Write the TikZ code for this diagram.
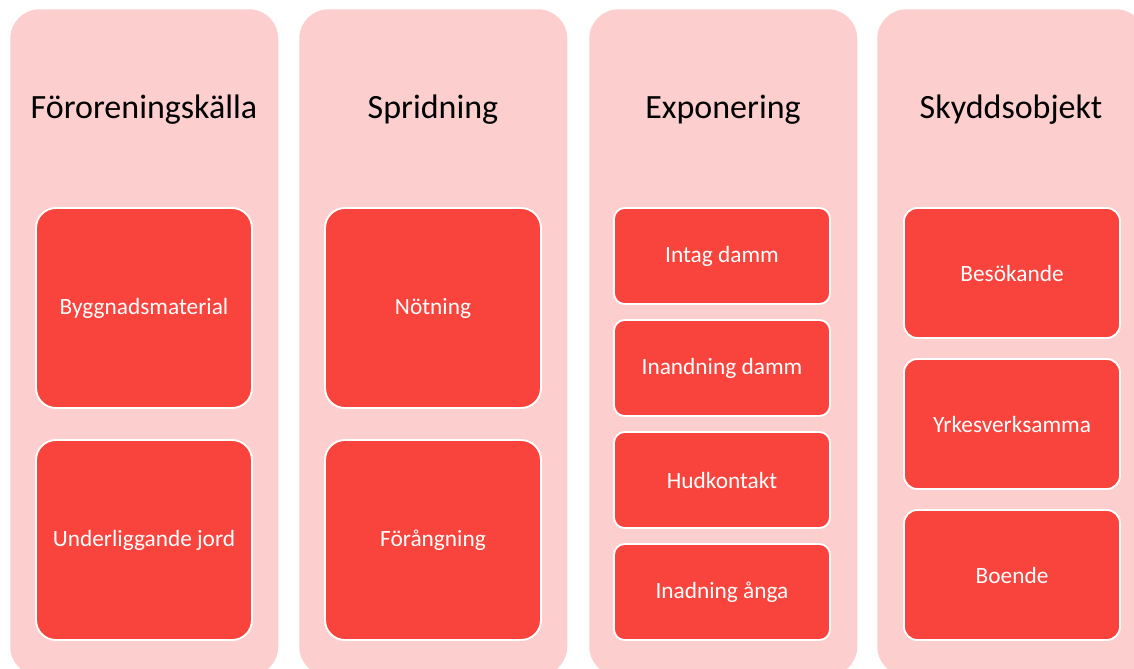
\documentclass[tikz,border=0pt]{standalone}
\usepackage{fontspec}
\setmainfont{Carlito}
\definecolor{lanepink}{HTML}{FCCECE}
\definecolor{itemred}{HTML}{F9443D}
\begin{document}
\begin{tikzpicture}[x=0.75pt,y=-0.75pt,
  lane/.style={fill=lanepink,draw=none,rounded corners=22pt,
    minimum width=201pt,minimum height=500pt,inner sep=0pt},
  heading/.style={anchor=base,font=\fontsize{25.5}{30}\selectfont,text=black},
  item/.style={fill=itemred,draw=white,line width=1.4pt,text=white,
    font=\fontsize{17.5}{21}\selectfont,minimum width=162pt,inner sep=0pt},
  bigitem/.style={item,minimum height=150pt,rounded corners=15pt},
  smallitem/.style={item,minimum height=72pt,rounded corners=8pt},
  miditem/.style={item,minimum height=97.5pt,rounded corners=10pt}]
\useasboundingbox (0,0) rectangle (1134,668);
\begin{scope}
\clip (0,0) rectangle (1134,668);
% background lanes
\node[lane,anchor=north west] (lane1) at (10,9) {};
\node[lane,anchor=north west] (lane2) at (299,9) {};
\node[lane,anchor=north west] (lane3) at (589,9) {};
\node[lane,anchor=north west] (lane4) at (877,9) {};
\end{scope}
% headings
\node[heading] (h1) at (144,118) {Föroreningskälla};
\node[heading] (h2) at (433,118) {Spridning};
\node[heading] (h3) at (723,118) {Exponering};
\node[heading] (h4) at (1011,118) {Skyddsobjekt};
% source
\node[bigitem] (s1) at (144,308) {Byggnadsmaterial};
\node[bigitem] (s2) at (144,540) {Underliggande jord};
% spreading
\node[bigitem] (p1) at (433,308) {Nötning};
\node[bigitem] (p2) at (433,540) {Förångning};
% exposure
\node[smallitem] (e1) at (722,256) {Intag damm};
\node[smallitem] (e2) at (722,368) {Inandning damm};
\node[smallitem] (e3) at (722,480) {Hudkontakt};
\node[smallitem] (e4) at (722,592) {Inadning ånga};
% receptors
\node[miditem] (r1) at (1012,273) {Besökande};
\node[miditem] (r2) at (1012,424) {Yrkesverksamma};
\node[miditem] (r3) at (1012,575) {Boende};
\end{tikzpicture}
\end{document}
